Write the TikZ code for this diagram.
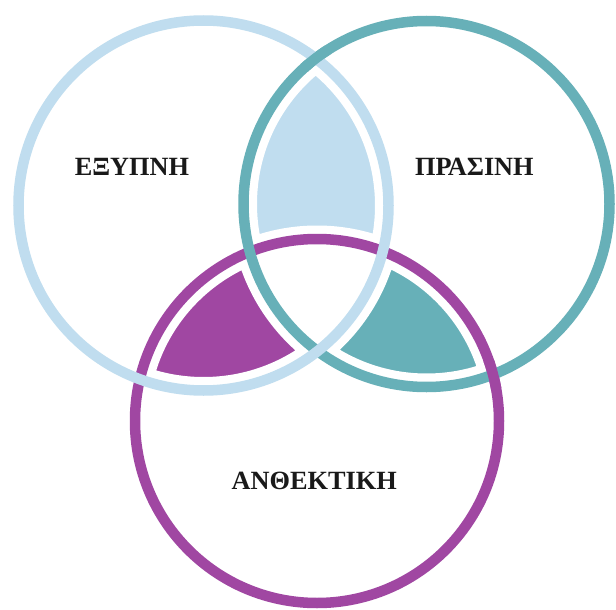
\documentclass[tikz,border=0pt]{standalone}
\usepackage{fontspec}
\setmainfont{Liberation Serif}
\definecolor{smartblue}{HTML}{C0DDEF}
\definecolor{greenteal}{HTML}{67B0B8}
\definecolor{resilpurple}{HTML}{A047A2}
\begin{document}
\begin{tikzpicture}[x=1pt,y=-1pt,
	ring/.style={line width=10.5pt},
	gap/.style={draw=white, line width=27pt},
	label/.style={font=\fontsize{26.3}{30}\selectfont\bfseries, text=black!90}]
	\useasboundingbox (0,0) rectangle (616,610);
	\coordinate (smart) at (203.5,205.5);
	\coordinate (green) at (426.5,204);
	\coordinate (resil) at (317,421);
	\tikzset{
		smartcircle/.style={insert path={(smart) circle[radius=185pt]}},
		greencircle/.style={insert path={(green) circle[radius=183pt]}},
		resilcircle/.style={insert path={(resil) circle[radius=182pt]}}}
	% overlaps
	\begin{scope}
		\clip[smartcircle];
		\clip[greencircle];
		\fill[smartblue] (0,0) rectangle (616,610);
		\fill[white, resilcircle];
	\end{scope}
	\begin{scope}
		\clip[smartcircle];
		\clip[resilcircle];
		\fill[resilpurple] (0,0) rectangle (616,610);
	\end{scope}
	\begin{scope}
		\clip[greencircle];
		\clip[resilcircle];
		\fill[greenteal] (0,0) rectangle (616,610);
	\end{scope}
	\begin{scope}
		\clip[smartcircle];
		\clip[greencircle];
		\fill[white, resilcircle];
	\end{scope}
	% white gaps
	\draw[gap, smartcircle, greencircle, resilcircle];
	% rings
	\draw[ring, resilpurple, resilcircle];
	\draw[ring, greenteal, greencircle];
	\draw[ring, smartblue, smartcircle];
	\coordinate (topcross) at (315.7,58.3);
	\coordinate (rightcross) at (493,374.5);
	\begin{scope}
		\clip (topcross) circle[radius=16pt];
		\draw[ring, greenteal, greencircle];
	\end{scope}
	\begin{scope}
		\clip (rightcross) circle[radius=16pt];
		\draw[ring, resilpurple, resilcircle];
	\end{scope}
	% labels
	\node[label] (smartlabel) at (132,167) {ΕΞΥΠΝΗ};
	\node[label] (greenlabel) at (474.4,167) {ΠΡΑΣΙΝΗ};
	\node[label] (resillabel) at (314.3,480.5) {ΑΝΘΕΚΤΙΚΗ};
\end{tikzpicture}
\end{document}
